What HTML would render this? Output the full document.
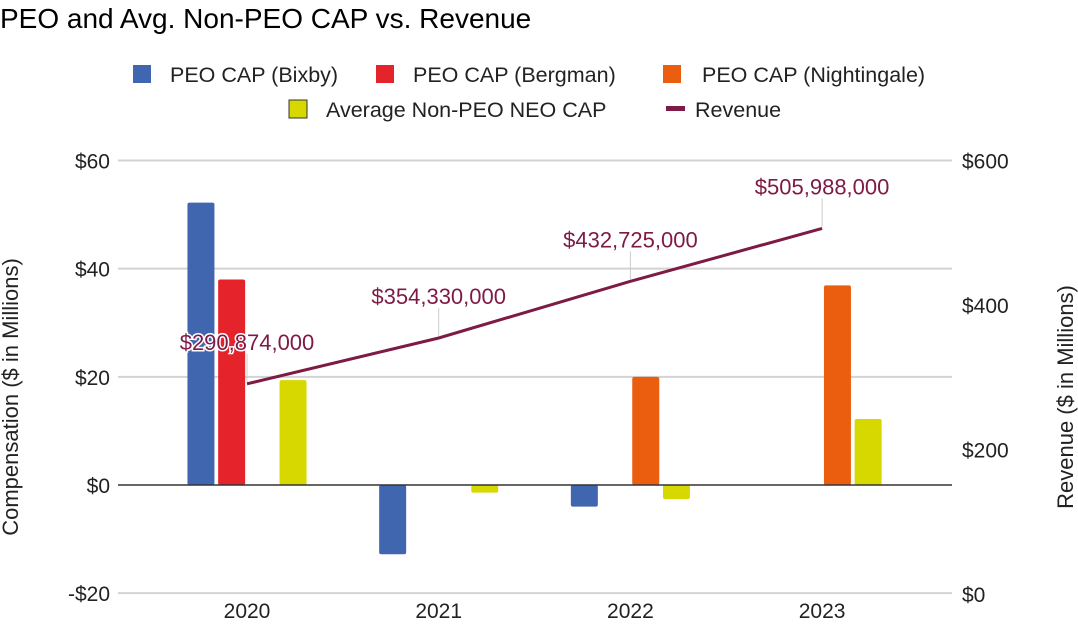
<!DOCTYPE html>
<html><head><meta charset="utf-8"><style>
body{margin:0;background:#fff;}
svg text{font-family:"Liberation Sans",Arial,sans-serif;}
</style></head><body>
<svg id="chart" width="1078" height="628" xmlns="http://www.w3.org/2000/svg">
<text x="0" y="28" font-size="28" fill="#000">PEO and Avg. Non-PEO CAP vs. Revenue</text>
<g font-size="21.5" fill="#222">
<g><rect x="133" y="65" width="18" height="18" fill="#4166b0"/><text x="170" y="82">PEO CAP (Bixby)</text></g>
<g><rect x="376" y="65" width="18" height="18" fill="#e5232b"/><text x="413" y="82">PEO CAP (Bergman)</text></g>
<g><rect x="663" y="65" width="18" height="18" fill="#ec5e0f"/><text x="702" y="82">PEO CAP (Nightingale)</text></g>
<g><rect x="289" y="100" width="18" height="18" fill="#d6d800" stroke="#333" stroke-width="1"/><text x="326" y="117">Average Non-PEO NEO CAP</text></g>
<g><rect x="666" y="106" width="19" height="5" fill="#7d1a45"/><text x="695" y="117">Revenue</text></g>
</g>
<g id="grid"></g><g id="bars"></g><g id="line"></g><g id="axes"></g>
<text transform="translate(18,397) rotate(-90)" text-anchor="middle" font-size="22" fill="#222">Compensation ($ in Millions)</text>
<text transform="translate(1073,397) rotate(-90)" text-anchor="middle" font-size="22" fill="#222">Revenue ($ in Millions)</text>
</svg>
<script>
const categories=["2020","2021","2022","2023"];
const bixby=[52.2,-12.8,-4,null];
const bergman=[38,null,null,null];
const nightingale=[null,null,20,36.9];
const neo=[19.4,-1.4,-2.6,12.2];
const revenue=[290874000,354330000,432725000,505988000];
const revenueLabels=["$290,874,000","$354,330,000","$432,725,000","$505,988,000"];
const leftTicks=[-20,0,20,40,60];
const leftTickLabels=["-$20","$0","$20","$40","$60"];
const rightTicks=[0,200,400,600];
const rightTickLabels=["$0","$200","$400","$600"];

const NS="http://www.w3.org/2000/svg";
const yL=v=>485-v*(485-160.5)/60;
const yR=v=>594-v/1e6*(594-160.5)/600;
const xC=i=>247+i*191.7;
function mk(p,t,a){const e=document.createElementNS(NS,t);for(const k in a)e.setAttribute(k,a[k]);document.getElementById(p).appendChild(e);return e;}
leftTicks.forEach((t,i)=>{
 if(t!==0){const g=mk('grid','line',{x1:118,x2:952,y1:yL(t),y2:yL(t),stroke:'#d3d3d3','stroke-width':2});
 
 }
 const l=mk('axes','text',{x:110,y:yL(t)+8,'text-anchor':'end','font-size':21,fill:'#222'});
 
 
 l.textContent=leftTickLabels[i];
});
rightTicks.forEach((t,i)=>{
 const l=mk('axes','text',{x:962,y:yR(t*1e6)+8,'font-size':21,fill:'#222'});
 
 
 l.textContent=rightTickLabels[i];
});
categories.forEach((c,i)=>{
 const l=mk('axes','text',{x:xC(i),y:618,'text-anchor':'middle','font-size':21,fill:'#222'});
 
 
 l.textContent=c;
});
const series=[[bixby,'#4166b0','bar-bixby'],[bergman,'#e5232b','bar-bergman'],[nightingale,'#ec5e0f','bar-nightingale'],[neo,'#d6d800','bar-neo']];
series.forEach((s,si)=>{
 s[0].forEach((v,i)=>{
  if(v==null)return;
  const x=xC(i)+(si-1.5)*30.7-13.5;
  const y0=yL(0),y1=yL(v);
  const top=Math.min(y0,y1),h=Math.abs(y1-y0);
  const r=mk('bars','rect',{x:x,y:top,width:27,height:h,fill:s[1],rx:2});
  
  
 });
});
const z=mk('axes','line',{x1:118,x2:952,y1:yL(0),y2:yL(0),stroke:'#333','stroke-width':1.5});


const pl=mk('line','polyline',{points:revenue.map((v,i)=>xC(i)+','+yR(v)).join(' '),fill:'none',stroke:'#7d1a45','stroke-width':3});


revenue.forEach((v,i)=>{
 const y=yR(v);
 const ld=mk('line','line',{x1:xC(i),x2:xC(i),y1:y-30,y2:y-2,stroke:'#ccc','stroke-width':1});
 
 
 const t=mk('line','text',{x:xC(i),y:y-34,'text-anchor':'middle','font-size':22,fill:'#7d1a45',stroke:'#fff','stroke-width':3,'paint-order':'stroke'});
 
 
 t.textContent=revenueLabels[i];
});
</script>
</body></html>
